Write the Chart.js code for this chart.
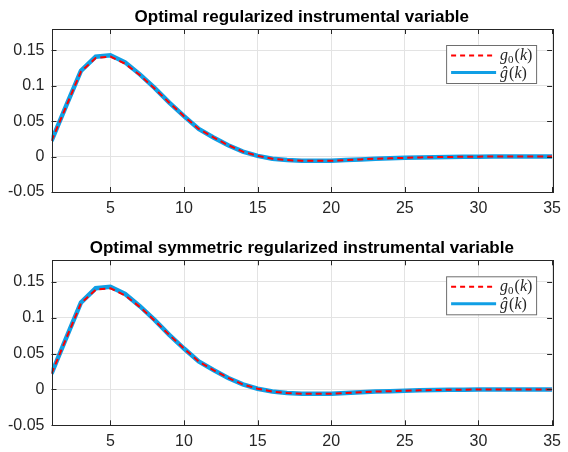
<!DOCTYPE html>
<html>
<head>
    <title>Optimal regularized instrumental variable</title>
    <script src="https://cdn.jsdelivr.net/npm/chart.js"></script>
    <style>
        body {
            margin: 0;
            background-color: #ffffff;
        }
        .plot {
            position: absolute;
            left: 0;
            width: 568px;
            height: 226px;
        }
    </style>
</head>
<body>
    <div class="plot" style="top: 0px;"><canvas id="chartTop" width="568" height="226"></canvas></div>
    <div class="plot" style="top: 226px;"><canvas id="chartBottom" width="568" height="226"></canvas></div>

    <script>
        // lag index k
        const lags = [1, 2, 3, 4, 5, 6, 7, 8, 9, 10, 11, 12, 13, 14, 15, 16, 17, 18, 19, 20,
                      21, 22, 23, 24, 25, 26, 27, 28, 29, 30, 31, 32, 33, 34, 35];
        // true impulse response g0(k)
        const g0 = [0.022, 0.071, 0.120, 0.139, 0.141, 0.131, 0.115, 0.096, 0.076, 0.057,
                    0.039, 0.027, 0.016, 0.007, 0.001, -0.003, -0.005, -0.006, -0.006, -0.006,
                    -0.005, -0.004, -0.003, -0.0025, -0.0018, -0.0012, -0.0008, -0.0005, -0.0003, -0.0001,
                    0, 0, 0, 0, 0];
        // estimate, regularized IV
        const ghatRiv = [0.022, 0.072, 0.121, 0.141, 0.143, 0.133, 0.116, 0.097, 0.076, 0.057,
                         0.039, 0.027, 0.016, 0.007, 0.001, -0.003, -0.005, -0.006, -0.006, -0.006,
                         -0.005, -0.004, -0.003, -0.0025, -0.0018, -0.0012, -0.0008, -0.0005, -0.0003, -0.0001,
                         0, 0, 0, 0, 0];
        // estimate, symmetric regularized IV
        const ghatSriv = [0.022, 0.072, 0.121, 0.141, 0.143, 0.133, 0.116, 0.097, 0.076, 0.057,
                          0.039, 0.027, 0.016, 0.007, 0.001, -0.003, -0.005, -0.006, -0.006, -0.006,
                          -0.005, -0.004, -0.003, -0.0025, -0.0018, -0.0012, -0.0008, -0.0005, -0.0003, -0.0001,
                          0, 0, 0, 0, 0];
        const xTicks = [5, 10, 15, 20, 25, 30, 35];
        const yTicks = [-0.05, 0, 0.05, 0.1, 0.15];
        const yTickLabels = ['-0.05', '0', '0.05', '0.1', '0.15'];

        const axisColor = '#262626';
        const red = '#ff0000';
        const blue = '#109fe5';

        Chart.defaults.font.family = '"Liberation Sans", Arial, sans-serif';

        // MATLAB style box with ticks pointing inwards, title centred on the axes
        const boxPlugin = {
            id: 'boxPlugin',
            afterDatasetsDraw(chart, args, opts) {
                const ctx = chart.ctx;
                const a = chart.chartArea;
                const len = 5;
                ctx.save();
                ctx.strokeStyle = axisColor;
                ctx.lineWidth = 1;
                ctx.strokeRect(Math.round(a.left) + 0.5, Math.round(a.top) + 0.5,
                    Math.round(a.right - a.left), Math.round(a.bottom - a.top));
                ctx.beginPath();
                chart.scales.x.ticks.forEach(t => {
                    const px = Math.round(chart.scales.x.getPixelForValue(t.value)) + 0.5;
                    ctx.moveTo(px, a.bottom); ctx.lineTo(px, a.bottom - len);
                    ctx.moveTo(px, a.top); ctx.lineTo(px, a.top + len);
                });
                chart.scales.y.ticks.forEach(t => {
                    const py = Math.round(chart.scales.y.getPixelForValue(t.value)) + 0.5;
                    ctx.moveTo(a.left, py); ctx.lineTo(a.left + len, py);
                    ctx.moveTo(a.right, py); ctx.lineTo(a.right - len, py);
                });
                ctx.stroke();

                ctx.fillStyle = '#000000';
                ctx.font = 'bold 17px "Liberation Sans", Arial, sans-serif';
                ctx.textAlign = 'center';
                ctx.textBaseline = 'alphabetic';
                ctx.fillText(opts.text, (a.left + a.right) / 2, a.top - opts.gap);
                ctx.restore();
            }
        };

        // legend with the latex-like labels
        const legendPlugin = {
            id: 'legendPlugin',
            afterDraw(chart) {
                const ctx = chart.ctx;
                const a = chart.chartArea;
                const bx = a.right - 106, by = a.top + 16, bw = 90, bh = 38;
                ctx.save();
                ctx.fillStyle = '#ffffff';
                ctx.fillRect(bx, by, bw, bh);
                ctx.strokeStyle = '#6e6e6e';
                ctx.lineWidth = 1;
                ctx.strokeRect(bx + 0.5, by + 0.5, bw, bh);

                // red dashed entry
                let ly = by + 10.5;
                ctx.strokeStyle = red;
                ctx.lineWidth = 2;
                ctx.setLineDash([5, 4]);
                ctx.beginPath(); ctx.moveTo(bx + 5, ly); ctx.lineTo(bx + 48, ly); ctx.stroke();
                ctx.setLineDash([]);

                ctx.fillStyle = '#262626';
                ctx.textBaseline = 'alphabetic';
                let tx = bx + 54, ty = by + 14.5;
                const it = 'italic 16px "Liberation Serif", "DejaVu Serif", serif';
                const up = '16px "Liberation Serif", "DejaVu Serif", serif';
                ctx.font = it; ctx.fillText('g', tx, ty); tx += ctx.measureText('g').width;
                ctx.font = '11px "Liberation Serif", serif'; ctx.fillText('0', tx, ty + 3); tx += ctx.measureText('0').width + 1;
                ctx.font = up; ctx.fillText('(', tx, ty); tx += ctx.measureText('(').width;
                ctx.font = it; ctx.fillText('k', tx, ty); tx += ctx.measureText('k').width;
                ctx.font = up; ctx.fillText(')', tx, ty);

                // blue solid entry
                ly = by + 27.5;
                ctx.strokeStyle = blue;
                ctx.lineWidth = 3;
                ctx.beginPath(); ctx.moveTo(bx + 5, ly); ctx.lineTo(bx + 50, ly); ctx.stroke();
                tx = bx + 54; ty = by + 32.5;
                ctx.font = it; ctx.fillText('ĝ', tx, ty); tx += ctx.measureText('ĝ').width + 1;
                ctx.font = up; ctx.fillText('(', tx, ty); tx += ctx.measureText('(').width;
                ctx.font = it; ctx.fillText('k', tx, ty); tx += ctx.measureText('k').width;
                ctx.font = up; ctx.fillText(')', tx, ty);
                ctx.restore();
            }
        };

        function makeChart(id, title, ghat, topPad, xAxisHeight) {
            const ctx = document.getElementById(id).getContext('2d');
            return new Chart(ctx, {
                type: 'line',
                data: {
                    datasets: [
                        {
                            label: 'g0(k)',
                            data: g0.map((v, i) => ({x: lags[i], y: v})),
                            borderColor: red,
                            borderWidth: 2,
                            borderDash: [6, 4],
                            pointRadius: 0,
                            tension: 0
                        },
                        {
                            label: 'ĝ(k)',
                            data: ghat.map((v, i) => ({x: lags[i], y: v})),
                            borderColor: blue,
                            borderWidth: 4.5,
                            pointRadius: 0,
                            tension: 0
                        }
                    ]
                },
                options: {
                    responsive: false,
                    animation: false,
                    layout: {
                        padding: {left: 0, right: 12, top: topPad, bottom: 0}
                    },
                    plugins: {
                        legend: {display: false},
                        tooltip: {enabled: false},
                        title: {display: false},
                        boxPlugin: {text: title, gap: 7}
                    },
                    scales: {
                        x: {
                            type: 'linear',
                            min: 1,
                            max: 35,
                            afterBuildTicks: s => { s.ticks = xTicks.map(v => ({value: v})); },
                            afterFit: s => { s.height = xAxisHeight; },
                            grid: {color: '#e3e3e3', drawTicks: false},
                            border: {display: false},
                            ticks: {color: axisColor, font: {size: 16}, padding: 7, maxRotation: 0, autoSkip: false}
                        },
                        y: {
                            min: -0.05,
                            max: 0.18,
                            afterBuildTicks: s => { s.ticks = yTicks.map(v => ({value: v})); },
                            afterFit: s => { s.width = 51.5; },
                            grid: {color: '#e3e3e3', drawTicks: false},
                            border: {display: false},
                            ticks: {
                                color: axisColor,
                                font: {size: 16},
                                padding: 7,
                                callback: (v, i) => yTickLabels[i]
                            }
                        }
                    }
                },
                plugins: [boxPlugin, legendPlugin]
            });
        }

        makeChart('chartTop', 'Optimal regularized instrumental variable', ghatRiv, 29, 34);
        makeChart('chartBottom', 'Optimal symmetric regularized instrumental variable', ghatSriv, 34.3, 26.7);
    </script>
</body>
</html>
